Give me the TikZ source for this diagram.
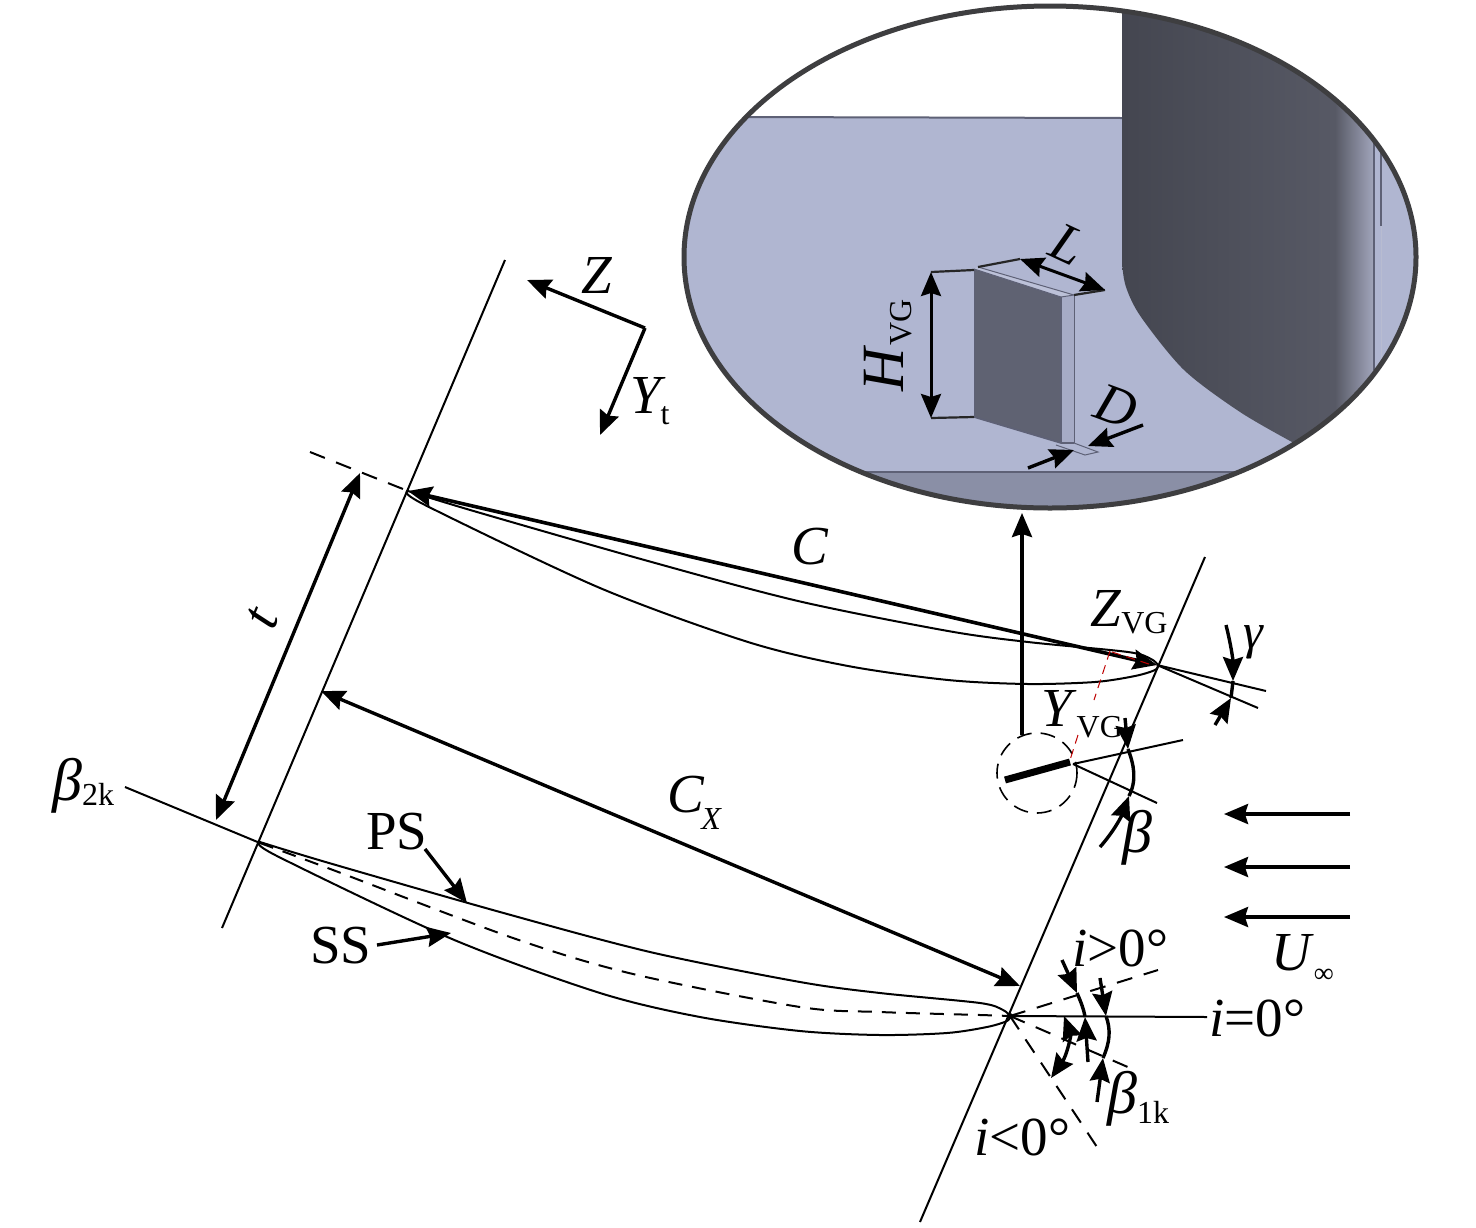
\documentclass[tikz,border=0pt]{standalone}
\usepackage{fontspec}
\setmainfont{Liberation Serif}
\usetikzlibrary{arrows.meta,calc}
\definecolor{bluesurf}{HTML}{B0B6D1}
\definecolor{bandc}{HTML}{8A8FA6}
\definecolor{ringc}{HTML}{3E3E40}
\definecolor{bladeA}{HTML}{444650}
\definecolor{bladeB}{HTML}{575965}
\definecolor{bladeC}{HTML}{A2A6BC}
\definecolor{vgface}{HTML}{5F6272}
\definecolor{vgside}{HTML}{A6ABC6}
\definecolor{linegrey}{HTML}{5E6176}
\newcommand{\lbl}{\fontsize{55}{60}\selectfont}
\newcommand{\sbs}[1]{\fontsize{32}{34}\selectfont #1}
\tikzset{
  tip/.tip={Stealth[length=24pt,width=20pt,inset=3pt]},
  thinl/.style={line width=2pt,black},
  dashl/.style={line width=2pt,black,dash pattern=on 16pt off 12pt},
  arr/.style={line width=3.4pt,black,-tip},
  darr/.style={line width=3.4pt,black,tip-tip},
  barc/.style={line width=3.4pt,black},
  lab/.style={inner sep=0pt,font=\lbl},
  ext/.style={line width=2.2pt,black!85},
  bladeline/.style={line width=2pt,black},
  reddash/.style={line width=1pt,red!75!black,dash pattern=on 9pt off 6pt},
}
\newcommand{\upperS}{plot[smooth,tension=0.5] coordinates {(408,491) (477,512) (648,561) (798,601) (948,631) (1028,642) (1128,652) (1151,659) (1158,665)}}
\newcommand{\lowerS}{plot[smooth,tension=0.5] coordinates {(408,491) (425,505) (600,588) (748,642) (848,666) (948,680) (1028,684) (1095,682) (1135,676) (1155,670) (1158,665)}}
\begin{document}
\begin{tikzpicture}[x=1pt,y=-1pt]
\useasboundingbox (0,0) rectangle (1476,1227);
\fill[white] (0,0) rectangle (1476,1227);
% ---------- inset ----------
\coordinate (ec) at (1050,257);
\begin{scope}
  \clip (ec) ellipse [x radius=367,y radius=252];
  \fill[bluesurf] (670,117) rectangle (1430,520);
  \fill[bandc] (840,472) rectangle (1260,520);
  \draw[linegrey,line width=1.5pt] (840,472) -- (1260,472);
  \draw[linegrey,line width=2pt] (740,117) -- (1122,118);
  \begin{scope}
    \clip plot[smooth,tension=0.5] coordinates {(1122,240) (1122,262) (1126,287) (1141,317) (1184,370) (1240,412) (1292,442)} -- (1374,442) -- (1374,0) -- (1122,0) -- cycle;
    \shade[left color=bladeA,right color=bladeB] (1122,0) rectangle (1335,460);
    \shade[left color=bladeB,right color=bladeC] (1335,0) rectangle (1374,460);
  \end{scope}
  \draw[linegrey,line width=1.3pt] (1374,143) -- (1374,370);
  \draw[linegrey,line width=1.3pt] (1381,150) -- (1381,226);
  \draw[vgside!80!white,line width=1pt] (1381,226) -- (1381,360);
\end{scope}
% vortex generator
\fill[vgface] (974,269) -- (1061,297) -- (1061,443) -- (974,417) -- cycle;
\fill[vgside] (1061,297) -- (1074,295) -- (1074,443) -- (1061,443) -- cycle;
\fill[bluesurf!85!white] (974,269) -- (978,267) -- (1074,295) -- (1061,297) -- cycle;
\draw[linegrey,line width=1pt] (974,269) -- (1061,297) -- (1074,295) -- (978,267);
\draw[linegrey,line width=1.3pt] (1061,297) -- (1061,443);
\draw[linegrey,line width=1pt] (1074,295) -- (1074,443);
\draw[linegrey,line width=1pt] (974,269) -- (974,417);
\draw[linegrey,line width=1.6pt] (974,417) -- (1061,443) -- (1074,443);
\draw[linegrey,line width=1pt] (1056,445) -- (1085,455) -- (1098,452) -- (1074,443);
\draw[ringc,line width=5pt] (ec) ellipse [x radius=366,y radius=251];
% dimensions in inset
\coordinate (h1) at (931,272); \coordinate (h2) at (931,418);
\coordinate (hf1) at (974,270); \coordinate (hf2) at (974,417);
\coordinate (l1) at (1020,259); \coordinate (l2) at (1105,290);
\coordinate (lf1) at (978,267); \coordinate (lf2) at (1074,295);
\draw[ext] (h1) -- (hf1);
\draw[ext] (h2) -- (hf2);
\draw[ext] (lf1) -- (l1);
\draw[ext] (lf2) -- (l2);
\draw[line width=3pt,tip-tip] (h1) -- (h2);
\draw[line width=3pt,tip-tip] (l1) -- (l2);
\coordinate (d1) at (1028,468); \coordinate (d1t) at (1074,450);
\coordinate (d2) at (1143,425); \coordinate (d2t) at (1088,446);
\draw[arr] (d1) -- (d1t);
\draw[arr] (d2) -- (d2t);
\node[lab,rotate=90] (hvg) at (888,345) {\fontsize{60}{60}\selectfont\textit{H}\raisebox{-8pt}{\sbs{VG}}};
\node[lab,rotate=-25] (ll) at (1068,245) {\textit{L}};
\node[lab,rotate=-20] (dd) at (1116,406) {\textit{D}};
% ---------- main lines ----------
\coordinate (A1) at (505,260); \coordinate (A2) at (222,928);
\coordinate (B1) at (1205,557); \coordinate (B2) at (920,1222);
\draw[thinl] (A1) -- (A2);
\draw[thinl] (B1) -- (B2);
% blade 1
\draw[bladeline] \upperS;
\draw[bladeline] \lowerS;
\coordinate (te1) at (408,491); \coordinate (le1) at (1157,665);
\draw[line width=3.6pt,tip-tip] (te1) -- (le1);
\coordinate (dt) at (310,452);
\draw[dashl] (dt) -- (te1);
\coordinate (gamA) at (1266,691); \coordinate (gamB) at (1258,708);
\draw[thinl] (le1) -- (gamA);
\draw[thinl] (le1) -- (gamB);
% blade 2
\begin{scope}[shift={(-148,351)}]
  \draw[bladeline] \upperS;
  \draw[bladeline] \lowerS;
\end{scope}
\coordinate (te2) at (260,843); \coordinate (o) at (1010,1016);
\draw[dashl,dash pattern=on 14pt off 10pt] plot[smooth,tension=0.5] coordinates {(te2) (333,870) (513,938) (633,974) (800,1007) (880,1012) (980,1015) (o)};
\coordinate (b2k) at (125,787);
\draw[thinl] (b2k) -- (te2);
% axes
\coordinate (ax) at (645,328); \coordinate (axZ) at (527,280); \coordinate (axY) at (600,435);
\draw[arr] (ax) -- (axZ);
\draw[arr] (ax) -- (axY);
% t and Cx
\coordinate (t1) at (360,473); \coordinate (t2) at (216,820);
\draw[darr] (t1) -- (t2);
\coordinate (c1) at (321,691); \coordinate (c2) at (1020,986);
\draw[darr] (c1) -- (c2);
% vertical arrow
\coordinate (v1) at (1022,735); \coordinate (v2) at (1022,513);
\draw[arr] (v1) -- (v2);
% free stream
\coordinate (u1) at (1350,814); \coordinate (u1t) at (1224,814);
\coordinate (u2) at (1350,867); \coordinate (u2t) at (1224,867);
\coordinate (u3) at (1350,917); \coordinate (u3t) at (1224,917);
\draw[arr] (u1) -- (u1t);
\draw[arr] (u2) -- (u2t);
\draw[arr] (u3) -- (u3t);
% VG section
\coordinate (sc) at (1037,773);
\draw[line width=1.6pt,dash pattern=on 15pt off 9pt] (sc) circle [radius=40];
\coordinate (bar1) at (1005,780); \coordinate (bar2) at (1070,762);
\draw[line width=7pt] (bar1) -- (bar2);
\coordinate (sA) at (1183,740); \coordinate (sB) at (1157,803); \coordinate (s0) at (1073,764);
\draw[thinl] (s0) -- (sA);
\draw[thinl] (s0) -- (sB);
% red dashes
\draw[reddash] (1112,652) -- (1155,666);
\draw[reddash] (1110,651) -- (1094,700);
\draw[reddash] (1078,735) -- (1070,760);
% beta
\coordinate (bt) at (1125,718); \coordinate (btt) at (1128,749);
\draw[arr] (bt) -- (btt);
\coordinate (bb) at (1100,847); \coordinate (bbt) at (1129,796);
\draw[line width=3.4pt,-tip] (bb) .. controls (1115,830) and (1122,815) .. (bbt);
\draw[barc] (btt) .. controls (1134,765) and (1137,780) .. (bbt);
% gamma
\coordinate (g1) at (1226,625); \coordinate (g1t) at (1233,681);
\coordinate (g2) at (1215,725); \coordinate (g2t) at (1231,698);
\draw[line width=3.4pt,-tip] (g1) .. controls (1231,645) and (1233,660) .. (g1t);
\draw[arr] (g2) -- (g2t);
\draw[barc] (g1t) -- (g2t);
% incidence
\coordinate (i0) at (1207,1017); \coordinate (ip) at (1158,970);
\coordinate (iq) at (1137,1071); \coordinate (ir) at (1099,1150);
\draw[thinl] (o) -- (i0);
\draw[dashl] (o) -- (ip);
\draw[dashl] (o) -- (iq);
\draw[dashl] (o) -- (ir);
\fill (o) circle [radius=3];
\coordinate (a1) at (1100,978); \coordinate (a1t) at (1106,1016);
\coordinate (a2) at (1097,1102); \coordinate (a2t) at (1103,1058);
\draw[line width=3.4pt,-tip] (a1) -- (a1t);
\draw[arr] (a2) -- (a2t);
\draw[barc] (a1t) .. controls (1111,1030) and (1110,1042) .. (a2t);
\coordinate (b1) at (1062,960); \coordinate (b1t) at (1077,993);
\coordinate (b2) at (1088,1062); \coordinate (b2t) at (1085,1017);
\draw[arr] (b1) -- (b1t);
\draw[arr] (b2) -- (b2t);
\draw[barc] (b1t) .. controls (1081,1002) and (1084,1010) .. (b2t);
\coordinate (e1) at (1064,1016); \coordinate (e2) at (1051,1078);
\draw[line width=3.4pt,tip-tip] (e1) .. controls (1071,1035) and (1067,1055) .. (e2);
% PS SS
\node[lab] (ps) at (397,832) {PS};
\node[lab] (ss) at (341,946) {SS};
\coordinate (pst) at (467,903); \coordinate (sst) at (451,933);
\coordinate (ps0) at (425,849); \coordinate (ss0) at (377,945);
\draw[arr] (ps0) -- (pst);
\draw[arr] (ss0) -- (sst);
% labels
\node[lab] (lZ) at (597,275) {\textit{Z}};
\node[lab,anchor=base west] (lY) at (630,413) {\textit{Y}\kern-5pt\raisebox{-11pt}{\sbs{t}}};
\node[lab,rotate=67] (lt) at (263,618) {\textit{t}};
\node[lab] (lC) at (810,547) {\textit{C}};
\node[lab,anchor=base west] (lCx) at (667,812) {\textit{C}\kern-3pt\raisebox{-17pt}{\sbs{\textit{X}}}};
\node[lab,anchor=base west] (lb2) at (52,800) {\fontsize{60}{60}\selectfont\textit{β}\raisebox{-5pt}{\sbs{2k}}};
\node[lab,anchor=base west] (lzvg) at (1090,626) {\textit{Z}\raisebox{-7pt}{\sbs{VG}}};
\node[lab,anchor=base west] (lyvg) at (1041,726) {\textit{Y}\raisebox{-11pt}{\sbs{VG}}};
\node[lab] (lgam) at (1254,642) {\fontsize{50}{50}\selectfont\textit{γ}};
\node[lab] (lbeta) at (1137,838) {\fontsize{60}{60}\selectfont\textit{β}};
\node[lab,anchor=base west] (luinf) at (1271,970) {\textit{U}\raisebox{-12pt}{\fontsize{28}{30}\selectfont ∞}};
\node[lab,anchor=base west] (lip) at (1072,966) {\textit{i}>0°};
\node[lab,anchor=base west] (liz) at (1209,1036) {\textit{i}=0°};
\node[lab,anchor=base west] (lin) at (974,1155) {\textit{i}<0°};
\node[lab,anchor=base west] (lb1) at (1107,1113) {\fontsize{60}{60}\selectfont\textit{β}\raisebox{-10pt}{\sbs{1k}}};
\end{tikzpicture}
\end{document}
